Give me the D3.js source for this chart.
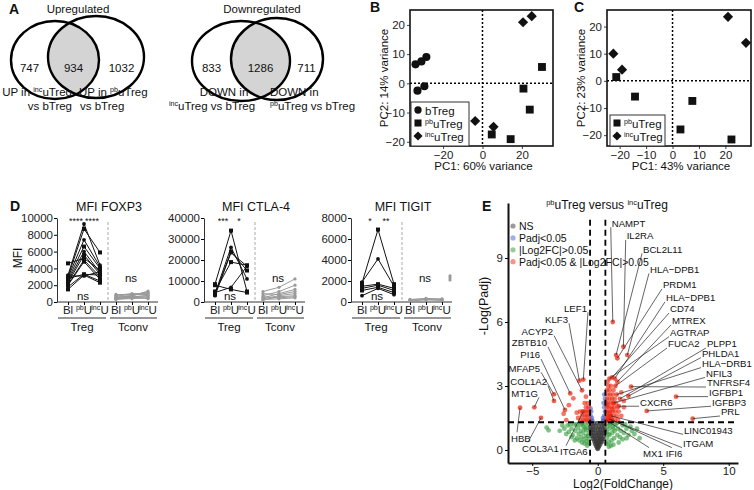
<!DOCTYPE html>
<html>
<head>
<meta charset="utf-8">
<script src="https://cdn.jsdelivr.net/npm/d3@7"></script>
<style>
  body { margin: 0; background: #fff; }
  svg { display: block; font-family: "Liberation Sans", Arial, sans-serif; }
</style>
</head>
<body>
<svg id="fig" width="754" height="490"></svg>
<script>
// ---------- A: venn counts [left only, shared, right only] ----------
const vennUp = [747, 934, 1032]
const vennDown = [833, 1286, 711]

// ---------- B / C: PCA (PC1, PC2) ----------
const pcaB_bTreg = [[-34, 6.5], [-31, 7.5], [-28.5, 9], [-33, -2.5], [-29.5, -1]]
const pcaB_pbuTreg = [[30.2, 5.6], [20.8, -1.8], [24.0, -9.0], [4.7, -17.5], [14.3, -19.1]]
const pcaB_incuTreg = [[20.6, 20.9], [25.0, 23.0], [-3.7, -12.9], [5.6, -14.9]]
const pcaC_pbuTreg = [[-21.3, 1.4], [-14.2, -5.8], [7.5, -7.4], [3.0, -17.9], [22.3, -21.6]]
const pcaC_incuTreg = [[-22.4, 10.0], [-19.1, 4.1], [21.0, 23.6], [27.8, 14.0]]
const pcaTicksB = [-20, 0, 20]
const pcaTicksC = [-20, -10, 0, 10, 20]
const pcaTicksY = [-20, -10, 0, 10, 20]

// ---------- D: MFI per donor, [Bl, pbU, incU] ----------
const foxTreg = [
  [4600, 5200, 3800], [3200, 9300, 4400], [3000, 8700, 5900], [2900, 7400, 4200],
  [2700, 6600, 4000], [2500, 6000, 3500], [2300, 5600, 3300], [2100, 5000, 3000],
  [2000, 4800, 2700], [1800, 3300, 2500], [1500, 3200, 2300], [3100, 3100, 3600], [2800, 3300, 3200]
]
const foxTconv = [
  [600, 700, 1300], [500, 800, 1100], [700, 900, 900], [400, 600, 800], [300, 500, 600],
  [800, 1000, 1000], [550, 650, 700], [350, 400, 500], [900, 850, 1200], [450, 550, 400]
]
const ctlaTreg = [
  [8500, 34000, 5000], [4000, 26000, 11000], [3500, 24000, 15000], [3000, 23500, 17000],
  [5000, 19000, 17500], [4500, 7000, 17000], [8000, 6000, 4500]
]
const ctlaTconv = [
  [5000, 7000, 11000], [3000, 5000, 8000], [2000, 4000, 6000], [1500, 3000, 4000],
  [1000, 2500, 3000], [2500, 2000, 2500], [4000, 3500, 5000], [1200, 1500, 2000]
]
const tigitTreg = [
  [1800, 6900, 1700], [1900, 4100, 1500], [1500, 1700, 1300], [1300, 1600, 1100],
  [1100, 1400, 900], [600, 1300, 700]
]
const tigitTconv = [[200, 350, 250], [150, 250, 200], [100, 200, 150], [250, 300, 300]]
const tigitTconvExtra = [2100, 2300, 2500]
const foxTicks = [0, 2000, 4000, 6000, 8000, 10000]
const ctlaTicks = [0, 10000, 20000, 30000, 40000]
const tigitTicks = [0, 2000, 4000, 6000, 8000]

// ---------- E: volcano [log2FC, -log10 padj] ----------
const volcanoNS = [
  [0, 0.05], [-0.05, 0.1], [0.05, 0.12], [-0.1, 0.18], [0.1, 0.18], [0, 0.22],
  [-0.2, 0.28], [-0.05, 0.3], [0.1, 0.3], [0.2, 0.28],
  [-0.25, 0.4], [-0.1, 0.38], [0.05, 0.42], [0.2, 0.4], [0.3, 0.38],
  [-0.35, 0.52], [-0.2, 0.5], [0, 0.55], [0.15, 0.5], [0.3, 0.52], [0.4, 0.5],
  [-0.45, 0.66], [-0.3, 0.64], [-0.1, 0.68], [0.1, 0.65], [0.25, 0.66], [0.45, 0.64],
  [-0.5, 0.8], [-0.35, 0.82], [-0.15, 0.78], [0.05, 0.8], [0.2, 0.82], [0.35, 0.78], [0.5, 0.8],
  [-0.55, 0.95], [-0.4, 0.96], [-0.2, 0.94], [0, 0.97], [0.2, 0.95], [0.4, 0.96], [0.55, 0.94],
  [-0.55, 1.1], [-0.35, 1.1], [-0.15, 1.12], [0.1, 1.1], [0.3, 1.1], [0.5, 1.12],
  [-0.5, 1.25], [-0.3, 1.24], [-0.05, 1.26], [0.2, 1.25], [0.45, 1.24]
]
const volcanoFC = [
  [-0.65, 0.3], [-0.7, 0.5], [-0.7, 0.8], [-0.75, 1.05], [-0.7, 1.25], [-0.85, 0.4], [-0.9, 0.65],
  [-0.9, 0.95], [-0.95, 1.2], [-1.05, 0.5], [-1.1, 0.8], [-1.1, 1.1], [-1.25, 0.6], [-1.3, 0.9],
  [-1.3, 1.2], [-1.45, 0.75], [-1.5, 1.05], [-1.6, 0.55], [-1.7, 0.9], [-1.8, 1.2], [-1.9, 0.7],
  [-2.0, 1.0], [-2.2, 0.85], [-2.3, 1.15], [-2.55, 1.0], [-3.9, 1.05], [-3.75, 0.92],
  [-0.8, 0.2], [-1.0, 0.3], [-1.2, 0.35], [-1.4, 0.45], [-0.75, 0.65], [-1.0, 1.0], [-1.2, 1.25], [-1.6, 1.2],
  [-2.1, 1.2], [-2.4, 0.75], [-2.7, 1.15], [-1.75, 0.45], [-2.0, 0.6], [-2.9, 0.9],
  [0.65, 0.3], [0.7, 0.55], [0.7, 0.85], [0.75, 1.1], [0.7, 1.25], [0.85, 0.35], [0.9, 0.7],
  [0.9, 1.0], [0.95, 1.2], [1.05, 0.45], [1.1, 0.8], [1.15, 1.1], [1.25, 0.55], [1.3, 0.9],
  [1.35, 1.2], [1.5, 0.7], [1.55, 1.0], [1.7, 0.6], [1.75, 0.9], [1.9, 1.15], [2.0, 0.8],
  [2.2, 1.0], [2.35, 0.7], [1.2, 0.25], [1.0, 0.2], [3.2, 0.55], [2.8, 0.75], [1.6, 0.35],
  [0.8, 0.75], [1.0, 1.25], [1.2, 1.0], [1.45, 1.25], [0.85, 0.15],
  [2.1, 1.2], [2.5, 1.1], [2.6, 0.9], [1.9, 0.5], [2.2, 0.55], [3.0, 1.0]
]
const volcanoPadj = [
  [-0.5, 1.4], [-0.55, 1.6], [-0.45, 1.5], [-0.5, 1.8], [-0.4, 1.35], [-0.55, 1.95],
  [0.45, 1.4], [0.5, 1.6], [0.55, 1.8], [0.4, 1.5], [0.5, 2.0], [0.45, 2.2], [0.55, 2.4], [0.4, 1.35], [0.5, 2.6]
]
const volcanoBoth = [
  [0.65, 1.4], [0.8, 1.4], [0.95, 1.4], [1.1, 1.4], [1.3, 1.4], [1.55, 1.4],
  [0.7, 1.6], [0.85, 1.6], [1.0, 1.6], [1.2, 1.6], [1.45, 1.6], [1.8, 1.6],
  [0.65, 1.8], [0.8, 1.8], [0.95, 1.8], [1.15, 1.8], [1.35, 1.8], [1.6, 1.8],
  [0.7, 2.0], [0.85, 2.0], [1.05, 2.0], [1.25, 2.0], [1.5, 2.0], [2.0, 2.0],
  [0.65, 2.2], [0.8, 2.2], [1.0, 2.2], [1.2, 2.2], [1.4, 2.2],
  [0.7, 2.4], [0.9, 2.4], [1.1, 2.4], [1.3, 2.4],
  [0.75, 2.6], [0.95, 2.6], [1.15, 2.6],
  [0.7, 2.8], [0.9, 2.8], [1.2, 2.8], [0.8, 3.0], [1.0, 3.0], [0.75, 3.2],
  [2.0, 2.3], [1.8, 2.7], [0.75, 1.5], [0.9, 1.7], [1.1, 1.9], [0.7, 2.1],
  [-0.65, 1.4], [-0.8, 1.4], [-0.95, 1.4], [-1.1, 1.4], [-1.3, 1.4],
  [-0.7, 1.6], [-0.85, 1.6], [-1.0, 1.6], [-1.2, 1.6],
  [-0.65, 1.8], [-0.8, 1.8], [-0.95, 1.8], [-1.15, 1.8], [-1.35, 1.8],
  [-0.7, 2.0], [-0.9, 2.0], [-0.75, 2.2], [-1.0, 2.2],
  [-1.5, 1.5], [-1.6, 1.75], [-2.4, 1.4], [-2.6, 1.7], [-2.2, 2.1], [-1.86, 2.42], [-0.9, 2.5]
]
const geneNames = ["NAMPT", "IL2RA", "BCL2L11", "HLA−DPB1", "PRDM1", "HLA−DPB1", "CD74", "MTREX",
  "AGTRAP", "FUCA2", "PLPP1", "PHLDA1", "HLA−DRB1", "NFIL3", "TNFRSF4", "IGFBP1", "CXCR6", "IGFBP3",
  "PRL", "LINC01943", "ITGAM", "MX1", "IFI6",
  "LEF1", "KLF3", "ACYP2", "ZBTB10", "PI16", "MFAP5", "COL1A2", "MT1G", "HBB", "COL3A1", "ITGA6"]
const geneFC = [1.15, 1.96, 1.4, 2.26, 1.5, 1.3, 1.1, 1.5, 0.9, 1.35, 1.7, 2.34, 1.45, 1.2, 2.54, 5.98,
  1.6, 3.74, 7.25, 1.0, 0.85, 0.7, 1.05,
  -1.1, -1.4, -1.2, -2.1, -2.5, -3.34, -3.34, -4.84, -5.93, -4.33, -1.1]
const geneLogP = [6.0, 4.84, 4.45, 4.45, 4.3, 3.35, 3.4, 3.2, 3.35, 3.0, 2.4, 2.53, 2.6, 2.2, 2.97, 2.5,
  2.05, 1.83, 1.47, 1.6, 1.45, 1.38, 1.42,
  3.3, 3.25, 2.8, 2.65, 1.88, 2.61, 2.3, 2.0, 1.98, 1.51, 1.8]
// where each gene name sits, in axis units, and which way its leader goes
const labelSpots = [
  [1.07, 10.63, "r"], [2.21, 10.03, "r"], [3.46, 9.41, "r"], [3.99, 8.47, "r"], [4.98, 7.74, "r"],
  [5.21, 7.13, "r"], [5.52, 6.61, "r"], [5.67, 6.05, "r"], [5.52, 5.50, "r"], [5.37, 4.97, "r"],
  [8.34, 4.97, "r"], [7.96, 4.52, "r"], [7.96, 4.05, "r"], [8.27, 3.59, "r"], [8.34, 3.14, "r"],
  [8.50, 2.69, "r"], [3.23, 2.24, "r"], [8.73, 2.24, "r"], [9.41, 1.78, "r"], [6.59, 0.92, "r"],
  [6.51, 0.30, "r"], [3.46, -0.17, "b"], [5.2, -0.17, "b"],
  [-0.82, 6.64, "l"], [-2.27, 6.13, "l"], [-3.41, 5.55, "l"], [-3.87, 5.02, "l"], [-4.40, 4.45, "l"],
  [-4.40, 3.83, "l"], [-3.87, 3.20, "l"], [-4.56, 2.66, "l"], [-6.62, 0.55, "b"], [-5.78, 0.08, "b"],
  [-2.88, -0.08, "b"]
]
const volcanoXTicks = [-5, 0, 5, 10]
const volcanoYTicks = [0, 3, 6, 9]

const svg = d3.select("#fig")
const ink = "#111"

// text with raised small parts, segs = [[string, isSup], ...]
function rich(t, segs, size) {
  let up = false
  segs.forEach(([s, sup]) => {
    const ts = t.append("tspan").text(s).attr("font-size", sup ? size * 0.62 : size)
    if (sup && !up) { ts.attr("dy", -size * 0.34); up = true }
    else if (!sup && up) { ts.attr("dy", size * 0.34); up = false }
  })
  return t
}
function label(x, y, segs, size, anchor, weight) {
  const t = svg.append("text").attr("x", x).attr("y", y).attr("fill", ink)
    .attr("text-anchor", anchor || "start").attr("font-weight", weight || "normal")
  return rich(t, typeof segs === "string" ? [[segs, 0]] : segs, size)
}

// panel letters
label(9, 14, "A", 14, "start", "bold")
label(370, 12, "B", 14, "start", "bold")
label(574, 12, "C", 14, "start", "bold")
label(10, 211, "D", 14, "start", "bold")
label(482, 211, "E", 14, "start", "bold")

// ---------- A ----------
function venn(id, L, R, counts, title, tx) {
  svg.append("defs").append("clipPath").attr("id", id)
    .append("ellipse").attr("cx", L[0]).attr("cy", L[1]).attr("rx", L[2]).attr("ry", L[3])
  svg.append("ellipse").attr("cx", R[0]).attr("cy", R[1]).attr("rx", R[2]).attr("ry", R[3])
    .attr("fill", "#d4d4d4").attr("clip-path", `url(#${id})`)
  ;[L, R].forEach(c => svg.append("ellipse").attr("cx", c[0]).attr("cy", c[1]).attr("rx", c[2]).attr("ry", c[3])
    .attr("fill", "none").attr("stroke", "#000").attr("stroke-width", 2.4))
  const xs = [(L[0] - L[2] + R[0] - R[2]) / 2, (R[0] - R[2] + L[0] + L[2]) / 2, (L[0] + L[2] + R[0] + R[2]) / 2]
  counts.forEach((c, i) => label(xs[i], 72, String(c), 11.5, "middle"))
  label(tx, 13, title, 11.5, "middle")
}
venn("vu", [55, 60, 44, 39], [96, 57, 48, 41], vennUp, "Upregulated", 78)
venn("vd", [241, 61, 49, 40], [277, 59, 46, 41], vennDown, "Downregulated", 262)

label(72, 96, [["UP in ", 0], ["inc", 1], ["uTreg", 0]], 11.5, "end")
label(72, 110, "vs bTreg", 11.5, "end")
label(79, 96, [["UP in ", 0], ["pb", 1], ["uTreg", 0]], 11.5, "start")
label(80, 110, "vs bTreg", 11.5, "start")
label(224, 96, "DOWN in", 11.5, "middle")
label(212, 110, [["inc", 1], ["uTreg vs bTreg", 0]], 11.5, "middle")
label(270, 96, "DOWN in", 11.5, "start")
label(270, 110, [["pb", 1], ["uTreg vs bTreg", 0]], 11.5, "start")

// ---------- B / C ----------
const shapes = {
  bTreg: { type: d3.symbolCircle, size: 52, rot: 0 },
  pbuTreg: { type: d3.symbolSquare, size: 62, rot: 0 },
  incuTreg: { type: d3.symbolSquare, size: 52, rot: 45 }
}
const names = {
  bTreg: [["bTreg", 0]],
  pbuTreg: [["pb", 1], ["uTreg", 0]],
  incuTreg: [["inc", 1], ["uTreg", 0]]
}
function pcaPanel(o) {
  const x = d3.scaleLinear().domain(o.xd).range([o.left, o.right])
  const y = d3.scaleLinear().domain(o.yd).range([o.bottom, o.top])
  const g = svg.append("g")
  g.append("line").attr("x1", x(0)).attr("x2", x(0)).attr("y1", o.top).attr("y2", o.bottom)
    .attr("stroke", "#000").attr("stroke-width", 1.5).attr("stroke-dasharray", "2,2")
  g.append("line").attr("x1", o.left).attr("x2", o.right).attr("y1", y(0)).attr("y2", y(0))
    .attr("stroke", "#000").attr("stroke-width", 1.5).attr("stroke-dasharray", "2,2")
  const ax = g.append("g").attr("transform", `translate(0,${o.bottom})`)
    .call(d3.axisBottom(x).tickValues(o.xt).tickSize(3).tickSizeOuter(0).tickPadding(2))
  const ay = g.append("g").attr("transform", `translate(${o.left},0)`)
    .call(d3.axisLeft(y).tickValues(pcaTicksY).tickSize(3).tickSizeOuter(0).tickPadding(2))
  ;[ax, ay].forEach(a => {
    a.select(".domain").remove()
    a.selectAll("text").attr("font-size", 11.5).attr("fill", "#222").attr("font-family", null)
    a.selectAll("line").attr("stroke", "#444")
  })
  g.append("rect").attr("x", o.left).attr("y", o.top).attr("width", o.right - o.left)
    .attr("height", o.bottom - o.top).attr("fill", "none").attr("stroke", "#111").attr("stroke-width", 1.6)
  o.series.forEach(([key, pts]) => {
    const s = shapes[key]
    g.selectAll(null).data(pts).join("path")
      .attr("d", d3.symbol(s.type, s.size))
      .attr("transform", d => `translate(${x(d[0])},${y(d[1])}) rotate(${s.rot})`)
      .attr("fill", "#111")
  })
  // legend
  const lg = o.legend
  g.append("rect").attr("x", lg.x).attr("y", lg.y).attr("width", lg.w)
    .attr("height", lg.step * o.series.length + 5).attr("fill", "#fff").attr("stroke", "#333").attr("stroke-width", 1)
  o.series.forEach(([key], i) => {
    const cy = lg.y + 8 + i * lg.step
    const s = shapes[key]
    g.append("path").attr("d", d3.symbol(s.type, s.size * 0.8))
      .attr("transform", `translate(${lg.x + 7},${cy}) rotate(${s.rot})`).attr("fill", "#111")
    const t = g.append("text").attr("x", lg.x + 14).attr("y", cy + 4.5).attr("fill", ink)
    rich(t, names[key], 11.5)
  })
  // titles
  label((o.left + o.right) / 2 + 2, 170, o.xl, 11.5, "middle")
  svg.append("text").attr("transform", `translate(${o.left - 22},${(o.top + o.bottom) / 2}) rotate(-90)`)
    .attr("text-anchor", "middle").attr("font-size", 11.5).attr("fill", ink).text(o.yl)
}
pcaPanel({
  left: 410, right: 553, top: 10, bottom: 146, xd: [-36.8, 35.8], yd: [-21.45, 25.1], xt: pcaTicksB,
  series: [["bTreg", pcaB_bTreg], ["pbuTreg", pcaB_pbuTreg], ["incuTreg", pcaB_incuTreg]],
  legend: { x: 411, y: 102, w: 58, step: 13 }, xl: "PC1: 60% variance", yl: "PC2: 14% variance"
})
pcaPanel({
  left: 607, right: 751, top: 10, bottom: 146, xd: [-24.8, 29.7], yd: [-24.0, 26.1], xt: pcaTicksC,
  series: [["pbuTreg", pcaC_pbuTreg], ["incuTreg", pcaC_incuTreg]],
  legend: { x: 610, y: 115, w: 55, step: 13 }, xl: "PC1: 43% variance", yl: "PC2: 23% variance"
})

// ---------- D ----------
const cats = ["tBl", "tPb", "tInc", "cBl", "cPb", "cInc"]
const catText = [[["Bl", 0]], [["pb", 1], ["U", 0]], [["inc", 1], ["U", 0]]]
function mfiPanel(i, title, yMax, ticks, treg, tconv, stars, extra) {
  const x0 = 57 + i * 147
  const y = d3.scaleLinear().domain([0, yMax]).range([302, 218])
  const x = d3.scalePoint().domain(cats).range([x0 + 11, x0 + 91])
  const g = svg.append("g")
  label(x0 + 52, 211, title, 12.5, "middle")
  const ay = g.append("g").attr("transform", `translate(${x0},0)`)
    .call(d3.axisLeft(y).tickValues(ticks).tickSize(3).tickSizeOuter(0).tickPadding(1).tickFormat(d3.format("d")))
  ay.selectAll("text").attr("font-size", 11.5).attr("fill", "#222").attr("font-family", null)
  ay.select(".domain").attr("stroke", "#333")
  const ax = g.append("g").attr("transform", "translate(0,302)")
    .call(d3.axisBottom(x).tickSize(3).tickFormat(""))
  ax.select(".domain").attr("d", `M${x0},0H${x0 + 101}`).attr("stroke", "#333")
  g.append("line").attr("x1", x0 + 51).attr("x2", x0 + 51).attr("y1", 222).attr("y2", 302)
    .attr("stroke", "#aaa").attr("stroke-width", 1).attr("stroke-dasharray", "3,2")
  // category labels
  cats.forEach((c, j) => {
    const t = g.append("text").attr("x", x(c)).attr("y", 314).attr("text-anchor", "middle").attr("fill", "#222")
    rich(t, catText[j % 3], 11.5)
  })
  g.append("line").attr("x1", x0 + 1).attr("x2", x0 + 49).attr("y1", 318).attr("y2", 318).attr("stroke", "#333").attr("stroke-width", 1.2)
  g.append("line").attr("x1", x0 + 53).attr("x2", x0 + 100).attr("y1", 318).attr("y2", 318).attr("stroke", "#333").attr("stroke-width", 1.2)
  label(x0 + 25, 331, "Treg", 11.5, "middle")
  label(x0 + 76, 331, "Tconv", 11.5, "middle")
  const line = d3.line()
  const drawSet = (rows, off, col, marker) => {
    rows.forEach((r, k) => {
      const pts = r.map((v, j) => [x(cats[j + off]), y(v)])
      g.append("path").attr("d", line(pts)).attr("fill", "none").attr("stroke", col).attr("stroke-width", 1)
      pts.forEach(p => {
        if (marker && k % 2 === 0) g.append("rect").attr("x", p[0] - 2).attr("y", p[1] - 2).attr("width", 4).attr("height", 4).attr("fill", col)
        else g.append("circle").attr("cx", p[0]).attr("cy", p[1]).attr("r", marker ? 1.9 : 1.6).attr("fill", col)
      })
    })
  }
  drawSet(tconv, 3, "#9a9a9a", false)
  drawSet(treg, 0, "#111", true)
  if (extra) extra.forEach(v => g.append("circle").attr("cx", x("cInc") + x.step() * 0.5).attr("cy", y(v)).attr("r", 1.6).attr("fill", "#9a9a9a"))
  label((x("tBl") + x("tPb")) / 2, 224, stars[0], 9, "middle")
  label((x("tPb") + x("tInc")) / 2, 224, stars[1], 9, "middle")
  label(x("tPb") - 1, 300, "ns", 11.5, "middle")
  label(x("cPb") - 1, 282, "ns", 11.5, "middle")
}
mfiPanel(0, "MFI FOXP3", 10000, foxTicks, foxTreg, foxTconv, ["****", "****"])
mfiPanel(1, "MFI CTLA-4", 40000, ctlaTicks, ctlaTreg, ctlaTconv, ["***", "*"])
mfiPanel(2, "MFI TIGIT", 8000, tigitTicks, tigitTreg, tigitTconv, ["*", "**"], tigitTconvExtra)
svg.append("text").attr("transform", "translate(22,258) rotate(-90)").attr("text-anchor", "middle")
  .attr("font-size", 12).attr("fill", ink).text("MFI")

// ---------- E ----------
const xE = d3.scaleLinear().domain([-6.85, 10.71]).range([508, 738])
const yE = d3.scaleLinear().domain([-0.61, 11.58]).range([463, 203])
const gE = svg.append("g")
const colNS = "#3a3a3a", colP = "#3f5fd0", colFC = "#2f9a35", colBoth = "#ee2a14"
const dots = (pts, col, op) => gE.append("g").selectAll("circle").data(pts).join("circle")
  .attr("cx", d => xE(d[0])).attr("cy", d => yE(d[1])).attr("r", 2.4).attr("fill", col).attr("fill-opacity", op)
dots(volcanoFC, colFC, 0.6)
dots(volcanoNS, colNS, 0.75)
dots(volcanoPadj, colP, 0.6)
dots(volcanoBoth, colBoth, 0.65)
dots(geneFC.map((v, i) => [v, geneLogP[i]]), colBoth, 0.75)

// threshold lines
;[-0.585, 0.585].forEach(v => gE.append("line").attr("x1", xE(v)).attr("x2", xE(v)).attr("y1", yE(10.8)).attr("y2", 463)
  .attr("stroke", "#000").attr("stroke-width", 1.8).attr("stroke-dasharray", "6,4"))
gE.append("line").attr("x1", 508).attr("x2", 738).attr("y1", yE(1.3)).attr("y2", yE(1.3))
  .attr("stroke", "#000").attr("stroke-width", 1.8).attr("stroke-dasharray", "6,4")

// axes
const axE = gE.append("g").attr("transform", "translate(0,463)")
  .call(d3.axisBottom(xE).tickValues(volcanoXTicks).tickSize(3).tickSizeOuter(0).tickPadding(1))
const ayE = gE.append("g").attr("transform", "translate(508,0)")
  .call(d3.axisLeft(yE).tickValues(volcanoYTicks).tickSize(3).tickSizeOuter(0).tickPadding(2))
;[axE, ayE].forEach(a => {
  a.select(".domain").attr("stroke", "#111").attr("stroke-width", 2)
  a.selectAll("text").attr("font-size", 11.5).attr("fill", "#222").attr("font-family", null)
})
label(623, 488, "Log2(FoldChange)", 12, "middle")
svg.append("text").attr("transform", "translate(488,306) rotate(-90)").attr("text-anchor", "middle")
  .attr("font-size", 12.5).attr("fill", ink).text("-Log(Padj)")
label(607, 209, [["pb", 1], ["uTreg versus ", 0], ["inc", 1], ["uTreg", 0]], 12, "middle")

// legend
const legE = [["NS", colNS], ["Padj<0.05", colP], ["|Log2FC|>0.05", colFC], ["Padj<0.05 & |Log2FC|>0.05", colBoth]]
legE.forEach(([t, c], i) => {
  gE.append("circle").attr("cx", 513).attr("cy", 226 + i * 11.9).attr("r", 2.6).attr("fill", c).attr("fill-opacity", 0.5)
  gE.append("text").attr("x", 519).attr("y", 230 + i * 11.9).attr("font-size", 10.5).attr("fill", ink).text(t)
})

// gene labels with leaders
geneNames.forEach((name, i) => {
  const [lx, ly, side] = labelSpots[i]
  const tx = xE(lx), ty = yE(ly)
  const px = xE(geneFC[i]), py = yE(geneLogP[i])
  let sx = tx - 1, sy = ty + 4
  if (side === "l") { sx = tx + 1; sy = ty + 4 }
  if (side === "b") { sx = tx + 6; sy = ty - 6 }
  gE.append("line").attr("x1", sx).attr("y1", sy).attr("x2", px).attr("y2", py)
    .attr("stroke", "#222").attr("stroke-width", 0.7)
  gE.append("text").attr("x", tx).attr("y", ty + 3.4).attr("font-size", 9.6).attr("fill", ink)
    .attr("text-anchor", side === "l" ? "end" : "start").text(name)
})
</script>
</body>
</html>
